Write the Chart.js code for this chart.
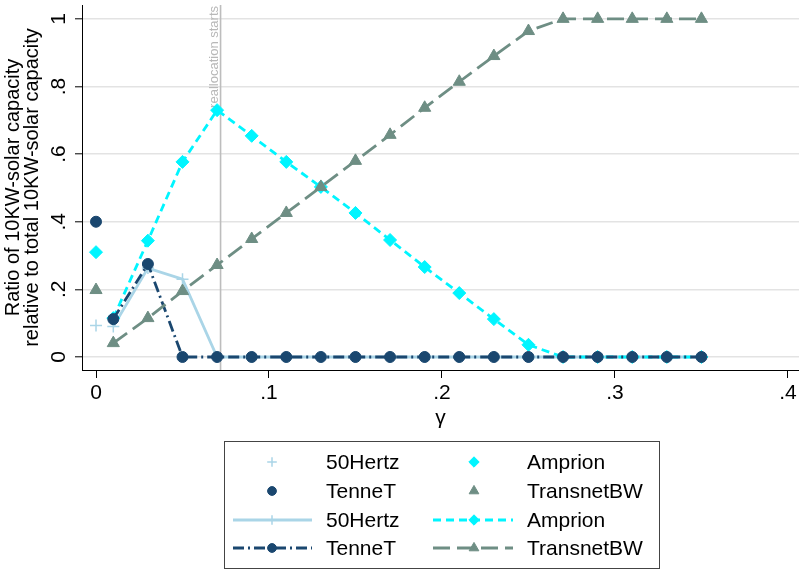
<!DOCTYPE html>
<html>
<head>
<meta charset="utf-8">
<script src="https://cdn.jsdelivr.net/npm/chart.js@4.4.1/dist/chart.umd.min.js"></script>
<style>
  html, body { margin: 0; padding: 0; background: #fff; }
  #wrap { width: 799px; height: 571px; }
</style>
</head>
<body>
<div id="wrap"><canvas id="myChart" width="799" height="571"></canvas></div>
<script>
// gamma values for the simulated series
const gamma = [0.01, 0.03, 0.05, 0.07, 0.09, 0.11, 0.13, 0.15, 0.17, 0.19, 0.21, 0.23, 0.25, 0.27, 0.29, 0.31, 0.33, 0.35];

// share of 10KW solar capacity per TSO along gamma
const hertz50 = [0.09, 0.263, 0.23, 0, 0, 0, 0, 0, 0, 0, 0, 0, 0, 0, 0, 0, 0, 0];
const tennet = [0.112, 0.275, 0, 0, 0, 0, 0, 0, 0, 0, 0, 0, 0, 0, 0, 0, 0, 0];
const amprion = [0.115, 0.344, 0.577, 0.73, 0.654, 0.577, 0.503, 0.426, 0.346, 0.266, 0.189, 0.112, 0.036, 0, 0, 0, 0, 0];
const transnet = [0.041, 0.115, 0.195, 0.272, 0.349, 0.426, 0.503, 0.58, 0.657, 0.737, 0.814, 0.89, 0.964, 1, 1, 1, 1, 1];

// observed shares at gamma = 0
const baseGamma = 0;
const baseShares = { hertz50: 0.093, tennet: 0.40, amprion: 0.31, transnet: 0.198 };

// reallocation threshold
const reallocAt = 0.072;

// axis ticks
const xTicks = [0, 0.1, 0.2, 0.3, 0.4];
const yTicks = [0, 0.2, 0.4, 0.6, 0.8, 1];

const FONT = '"Liberation Sans", Arial, Helvetica, sans-serif';
const colors = { hertz50: '#aad5e7', tennet: '#1a476f', amprion: '#00f5ff', transnet: '#6e8e84' };

const toXY = (vals) => vals.map((v, i) => ({ x: gamma[i], y: v }));
const fmt = (v) => v === 0 ? '0' : (v === 1 ? '1' : String(v).replace(/^0/, ''));

const markers = {
  hertz50: { pointStyle: 'cross', pointRadius: 6, pointBorderWidth: 1.5 },
  tennet: { pointStyle: 'circle', pointRadius: 5.5, pointBorderWidth: 1 },
  amprion: { pointStyle: 'rectRot', pointRadius: 6.5, pointBorderWidth: 1 },
  transnet: { pointStyle: 'triangle', pointRadius: 7, pointBorderWidth: 1 },
};

function scatterSet(key, label, order) {
  return Object.assign({
    label: label,
    data: [{ x: baseGamma, y: baseShares[key] }],
    showLine: false,
    backgroundColor: colors[key],
    borderColor: colors[key],
    order: order,
  }, markers[key]);
}

function lineSet(key, label, vals, dash, order) {
  return Object.assign({
    label: label,
    data: toXY(vals),
    showLine: true,
    borderColor: colors[key],
    backgroundColor: colors[key],
    borderWidth: 2.8,
    borderDash: dash,
    tension: 0,
    fill: false,
    order: order,
  }, markers[key]);
}

const datasets = [
  scatterSet('hertz50', '50Hertz', 20),
  scatterSet('amprion', 'Amprion', 19),
  scatterSet('tennet', 'TenneT', 18),
  scatterSet('transnet', 'TransnetBW', 17),
  lineSet('hertz50', '50Hertz', hertz50, [], 16),
  lineSet('amprion', 'Amprion', amprion, [8, 5], 15),
  lineSet('tennet', 'TenneT', tennet, [11, 4, 2, 4], 14),
  lineSet('transnet', 'TransnetBW', transnet, [17, 7], 13),
];

// vertical marker line, tick labels and the boxed legend
const extras = {
  id: 'extras',
  beforeDatasetsDraw(chart) {
    const { ctx, chartArea, scales } = chart;
    const x = scales.x.getPixelForValue(reallocAt);
    ctx.save();
    ctx.strokeStyle = '#bdbdbd';
    ctx.lineWidth = 1.6;
    ctx.beginPath();
    ctx.moveTo(x, chartArea.top);
    ctx.lineTo(x, chartArea.bottom);
    ctx.stroke();
    ctx.translate(x - 3, chartArea.top + 1);
    ctx.rotate(-Math.PI / 2);
    ctx.fillStyle = '#b8b8b8';
    ctx.font = '13px ' + FONT;
    ctx.textAlign = 'right';
    ctx.textBaseline = 'alphabetic';
    ctx.fillText('reallocation starts', 0, 0);
    ctx.restore();
  },
  afterDraw(chart) {
    const { ctx, scales, chartArea } = chart;
    ctx.save();
    ctx.fillStyle = '#000';
    ctx.font = '21px ' + FONT;
    ctx.textAlign = 'center';
    ctx.textBaseline = 'middle';
    yTicks.forEach((v) => {
      const y = scales.y.getPixelForValue(v);
      ctx.save();
      ctx.translate(58, y);
      ctx.rotate(-Math.PI / 2);
      ctx.fillText(fmt(v), 0, 1);
      ctx.restore();
    });
    xTicks.forEach((v) => {
      ctx.fillText(fmt(v), scales.x.getPixelForValue(v), chartArea.bottom + 23);
    });

    // legend box
    const box = { left: 224, top: 441, right: 659, bottom: 568 };
    ctx.strokeStyle = '#444';
    ctx.lineWidth = 1;
    ctx.strokeRect(box.left + 0.5, box.top + 0.5, box.right - box.left, box.bottom - box.top);

    const rows = [462, 491, 520, 548];
    const cols = [
      { x0: 233, mx: 272, x1: 312, tx: 326 },
      { x0: 433, mx: 474, x1: 513, tx: 527 },
    ];
    const items = [
      [0, 0, 0], [1, 1, 0],
      [2, 0, 1], [3, 1, 1],
      [4, 0, 2], [5, 1, 2],
      [6, 0, 3], [7, 1, 3],
    ];
    ctx.textAlign = 'left';
    items.forEach(([di, ci, ri]) => {
      const ds = datasets[di];
      const c = cols[ci];
      const y = rows[ri];
      if (ds.showLine) {
        ctx.save();
        ctx.strokeStyle = ds.borderColor;
        ctx.lineWidth = ds.borderWidth;
        ctx.setLineDash(ds.borderDash);
        ctx.beginPath();
        ctx.moveTo(c.x0, y);
        ctx.lineTo(c.x1, y);
        ctx.stroke();
        ctx.restore();
      }
      const r = ds.pointRadius * 0.8;
      ctx.fillStyle = ds.backgroundColor;
      ctx.strokeStyle = ds.borderColor;
      ctx.lineWidth = ds.pointBorderWidth;
      ctx.setLineDash([]);
      Chart.helpers.drawPoint(ctx, { pointStyle: ds.pointStyle, radius: r, rotation: 0, borderWidth: ds.pointBorderWidth }, c.mx, y);
      ctx.fillStyle = '#000';
      ctx.fillText(ds.label, c.tx, y + 1);
    });
    ctx.restore();
  },
};

const ctx = document.getElementById('myChart');

new Chart(ctx, {
  type: 'scatter',
  data: { datasets: datasets },
  options: {
    responsive: false,
    animation: false,
    devicePixelRatio: 1,
    layout: { autoPadding: false, padding: { top: 5, right: 0, bottom: 139, left: 0 } },
    plugins: {
      legend: { display: false },
      tooltip: { enabled: false },
    },
    scales: {
      x: {
        type: 'linear',
        min: -0.0081,
        max: 0.4064,
        afterBuildTicks: (scale) => { scale.ticks = xTicks.map((v) => ({ value: v })); },
        afterFit: (scale) => { scale.height = 62; },
        grid: { drawOnChartArea: false, drawTicks: true, tickLength: 8, tickColor: '#000', tickWidth: 1 },
        border: { display: true, color: '#000', width: 1 },
        ticks: { display: false },
        title: {
          display: true,
          text: 'γ',
          color: '#000',
          font: { family: FONT, size: 21 },
          padding: { top: 0, bottom: 1 },
        },
      },
      y: {
        type: 'linear',
        min: -0.0385,
        max: 1.041,
        afterBuildTicks: (scale) => { scale.ticks = yTicks.map((v) => ({ value: v })); },
        afterFit: (scale) => { scale.width = 82; },
        grid: { drawOnChartArea: true, color: '#e3e3e3', lineWidth: 1.6, drawTicks: true, tickLength: 7, tickColor: '#000', tickWidth: 1 },
        border: { display: true, color: '#000', width: 1 },
        ticks: { display: false },
        title: {
          display: true,
          text: ['Ratio of 10KW-solar capacity', 'relative to total 10KW-solar capacity'],
          color: '#000',
          font: { family: FONT, size: 20, lineHeight: 0.95 },
          padding: { top: 4, bottom: 0 },
        },
      },
    },
  },
  plugins: [extras],
});
</script>
</body>
</html>
